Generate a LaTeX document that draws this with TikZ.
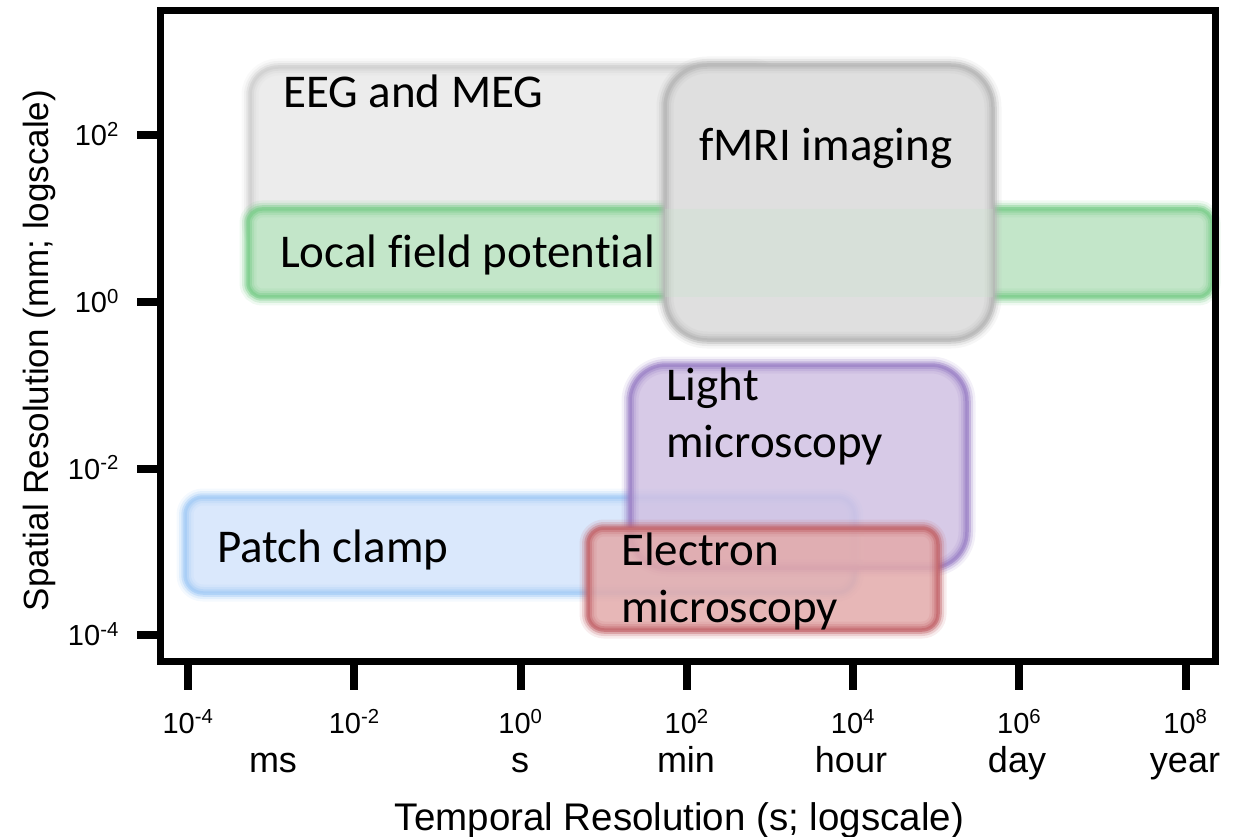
\documentclass[tikz,border=0pt]{standalone}
\usepackage{fontspec}
\setmainfont{Liberation Sans}
\newfontfamily\labelfont[Ligatures=NoCommon]{Carlito}

% region colours: fill and soft border
\definecolor{eegfill}{HTML}{ECECEC}
\definecolor{eegline}{HTML}{CFCFCF}
\definecolor{fmrifill}{HTML}{DFDFDF}
\definecolor{fmriline}{HTML}{B5B5B5}
\definecolor{lfpfill}{HTML}{C3E6C9}
\definecolor{lfpline}{HTML}{7ACD8A}
\definecolor{patchfill}{HTML}{DAE8FC}
\definecolor{patchline}{HTML}{A3CBF6}
\definecolor{lightfill}{HTML}{D0C1E3}
\definecolor{lightline}{HTML}{9A80C6}
\definecolor{emfill}{HTML}{E3AAAA}
\definecolor{emline}{HTML}{C2646A}

\begin{document}
\begin{tikzpicture}[x=1pt,y=-1pt,
  % rounded region with a blurred-looking rim
  glow/.style n args={3}{
    preaction={fill=#2, fill opacity=#3},
    preaction={draw=#1, draw opacity=0.12, line width=17pt},
    preaction={draw=#1, draw opacity=0.22, line width=12pt},
    preaction={draw=#1, draw opacity=0.40, line width=7.5pt},
    draw=#1, draw opacity=0.65, line width=3.5pt},
  region/.style={rectangle, inner sep=0pt, outer sep=0pt},
  tag/.style={font=\labelfont\fontsize{47}{56}\selectfont, anchor=base west, inner sep=0pt},
  ticknum/.style={font=\fontsize{29}{35}\selectfont, inner sep=0pt},
  unit/.style={font=\fontsize{36}{43}\selectfont, anchor=base, inner sep=0pt},
  axtitle/.style={inner sep=0pt, anchor=base},
  frame/.style={line width=7pt},
  tickmark/.style={line width=8pt}
]
\useasboundingbox (0,0) rectangle (1235,837);

% measurement ranges; EEG/MEG runs on behind the fMRI panel
\node[region, glow={eegline}{eegfill}{1}, rounded corners=28pt,
      minimum width=530pt, minimum height=183pt] (eeg) at (515,158.5) {};
\node[region, glow={lfpline}{lfpfill}{1}, rounded corners=14pt,
      minimum width=964pt, minimum height=88pt] (lfp) at (730,253) {};
\node[region, glow={fmriline}{fmrifill}{1}, rounded corners=42pt,
      minimum width=328pt, minimum height=275pt] (fmri) at (829,202.5) {};
% the LFP band shows faintly through the fMRI panel
\begin{scope}
  \clip[rounded corners=42pt] (fmri.south west) rectangle (fmri.north east);
  \fill[lfpfill, fill opacity=0.25, rounded corners=14pt]
    (lfp.south west) rectangle (lfp.north east);
\end{scope}
\node[region, glow={patchline}{patchfill}{1}, rounded corners=18pt,
      minimum width=670pt, minimum height=96pt] (patch) at (520,545) {};
\node[region, glow={lightline}{lightfill}{0.85}, rounded corners=36pt,
      minimum width=337pt, minimum height=203pt] (light) at (798.5,466.5) {};
\node[region, glow={emline}{emfill}{0.85}, rounded corners=16pt,
      minimum width=350pt, minimum height=102pt] (em) at (763,579) {};

% region labels
\node[tag] (eegt) at (283,108) {EEG and MEG};
\node[tag] (fmrit) at (699,161) {fMRI imaging};
\node[tag] (lfpt) at (280,268) {Local field potential};
\node[tag] (lightt1) at (666,400) {Light};
\node[tag] (lightt2) at (666,457) {microscopy};
\node[tag] (patcht) at (217,562) {Patch clamp};
\node[tag] (emt1) at (621,565) {Electron};
\node[tag] (emt2) at (621,622) {microscopy};

% axes frame and ticks
\draw[frame] (160,11) rectangle (1215,661);
\foreach \e in {-4,-2,0,2,4,6,8} {
  \pgfmathsetmacro\xx{188+83.125*(\e+4)}
  \draw[tickmark] (\xx,661) -- (\xx,690);
  \node[ticknum, anchor=base] (xt\e) at (\xx,733) {10\textsuperscript{\e}};
}
\foreach \e in {2,0,-2,-4} {
  \pgfmathsetmacro\yy{302-83.25*\e}
  \draw[tickmark] (137,\yy) -- (160,\yy);
  \node[ticknum, anchor=base east] (yt\e) at (119,\yy+10.5) {10\textsuperscript{\e}};
}

% time units
\node[unit] (ums) at (273,772) {ms};
\node[unit] (us) at (520,772) {s};
\node[unit] (umin) at (686,772) {min};
\node[unit] (uhour) at (851,772) {hour};
\node[unit] (uday) at (1017,772) {day};
\node[unit] (uyear) at (1185,772) {year};

% axis titles
\node[axtitle, font=\fontsize{38.5}{46}\selectfont] (xtitle) at (679.5,830)
  {Temporal Resolution (s; logscale)};
\node[axtitle, rotate=90, font=\fontsize{35}{42}\selectfont] (ytitle) at (48,350.5)
  {Spatial Resolution (mm; logscale)};
\end{tikzpicture}
\end{document}
